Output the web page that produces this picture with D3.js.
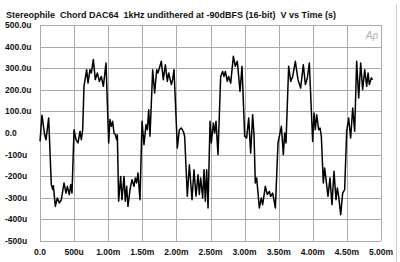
<!DOCTYPE html>
<html>
<head>
<meta charset="utf-8">
<script src="https://cdn.jsdelivr.net/npm/d3@7"></script>
<style>
  body { margin: 0; background: #fff; }
  svg { display: block; font-family: "Liberation Sans", Arial, sans-serif; }
</style>
</head>
<body>
<script>
var width = 400,
  height = 262;

var title = "Stereophile  Chord DAC64  1kHz undithered at -90dBFS (16-bit)  V vs Time (s)";

// x ticks (ms) and labels
var xTicks = [0, 0.5, 1, 1.5, 2, 2.5, 3, 3.5, 4, 4.5, 5];
var xLabels = ["0.0", "500u", "1.00m", "1.50m", "2.00m", "2.50m", "3.00m", "3.50m", "4.00m", "4.50m", "5.00m"];

// y ticks (uV) and labels
var yTicks = [500, 400, 300, 200, 100, 0, -100, -200, -300, -400, -500];
var yLabels = ["500.0u", "400.0u", "300.0u", "200.0u", "100.0u", "0.0", "-100u", "-200u", "-300u", "-400u", "-500u"];

// waveform, time in ms, level in uV
var timeMs = [0, 0.029, 0.068, 0.088, 0.127, 0.166, 0.186, 0.196, 0.225, 0.254, 0.283, 0.313, 0.352, 0.381, 0.401, 0.430, 0.450, 0.469,
  0.499, 0.528, 0.557, 0.587, 0.606, 0.626, 0.645, 0.684, 0.704, 0.733, 0.753, 0.782, 0.811, 0.841, 0.870, 0.899, 0.929, 0.968,
  1.007, 1.026, 1.046, 1.065, 1.085, 1.105, 1.124, 1.134, 1.153, 1.183, 1.202, 1.232, 1.251, 1.271, 1.290, 1.320, 1.349, 1.378, 1.398, 1.417, 1.437, 1.466,
  1.496, 1.525, 1.554, 1.574, 1.594, 1.613, 1.652, 1.681, 1.711, 1.730, 1.779, 1.808, 1.838, 1.867, 1.887, 1.926, 1.945, 1.965,
  2.014, 2.043, 2.072, 2.101, 2.121, 2.160, 2.190, 2.229, 2.258, 2.287, 2.317, 2.336, 2.356, 2.385, 2.405, 2.424, 2.444, 2.464,
  2.493, 2.512, 2.542, 2.561, 2.581, 2.610, 2.649, 2.678, 2.698, 2.718, 2.747, 2.766, 2.796, 2.835, 2.864, 2.893, 2.933, 2.962,
  3.001, 3.030, 3.060, 3.089, 3.118, 3.138, 3.157, 3.177, 3.216, 3.245, 3.265, 3.304, 3.333, 3.363, 3.382, 3.412, 3.451,
  3.490, 3.539, 3.568, 3.588, 3.607, 3.646, 3.676, 3.705, 3.744, 3.783, 3.822, 3.861, 3.891, 3.920, 3.949,
  3.998, 4.018, 4.037, 4.057, 4.086, 4.106, 4.125, 4.154, 4.174, 4.223, 4.252, 4.281, 4.311, 4.340, 4.360, 4.379, 4.409, 4.438, 4.467,
  4.497, 4.526, 4.555, 4.585, 4.614, 4.643, 4.673, 4.702, 4.731, 4.761, 4.790, 4.810, 4.829, 4.858, 4.878];

var levelUv = [-39, 82, -8, -31, 69, -239, -262, -244, -340, -301, -324, -309, -231, -278, -247, -285, -239, -278,
  15, -31, -46, 8, -31, 15, 216, 293, 231, 293, 278, 340, 247, 278, 239, 262, 216, 324,
  -46, 62, 31, 54, 0, -8, -31, -8, -316, -201, -309, -201, -316, -247, -340, -262, -216, -247, -208, -231, -185, -309,
  54, -54, 39, 15, 108, -15, 293, 185, 293, 278, 332, 247, 316, 239, 278, 224, 247, 293,
  -69, 15, 23, 8, -15, -293, -147, -309, -170, -293, -193, -285, -208, -301, -170, -316, -170, -347,
  54, -46, 46, 0, 54, -100, 262, 285, 262, 285, 239, 262, 231, 355, 309, 332, 193, 309,
  -15, -23, 69, -93, 85, -8, -231, -208, -347, -301, -332, -247, -285, -270, -293, -278, -347,
  -46, 31, -100, 0, -46, 309, 239, 262, 332, 247, 208, 316, 224, 255, 324,
  -39, 93, 15, 85, 15, 23, -15, -231, -162, -293, -208, -332, -177, -309, -255, -293, -378, -278, -262,
  8, 69, -23, 116, 8, 332, 162, 324, 201, 293, 216, 278, 224, 255, 247];

var margin = { top: 25, right: 19, bottom: 21, left: 40 };

var x = d3.scaleLinear().domain([0, 5]).range([margin.left, width - margin.right]);
var y = d3.scaleLinear().domain([-500, 500]).range([height - margin.bottom, margin.top]);

var svg = d3.select("body").append("svg")
  .attr("width", width)
  .attr("height", height);

// faint frame on the right edge
svg.append("line")
  .attr("x1", 396.5).attr("x2", 396.5)
  .attr("y1", 4).attr("y2", height)
  .attr("stroke", "#d0d0d0");

svg.append("text")
  .attr("x", 6)
  .attr("y", 18)
  .attr("font-size", 9)
  .attr("font-weight", "bold")
  .attr("fill", "#111")
  .style("white-space", "pre")
  .attr("xml:space", "preserve")
  .text(title);

// grid
var grid = svg.append("g").attr("stroke", "#aaa").attr("stroke-width", 1);

grid.selectAll(".gx")
  .data(xTicks)
  .enter().append("line")
  .attr("x1", function (d) { return Math.round(x(d)) + 0.5; })
  .attr("x2", function (d) { return Math.round(x(d)) + 0.5; })
  .attr("y1", y(500))
  .attr("y2", y(-500));

grid.selectAll(".gy")
  .data(yTicks)
  .enter().append("line")
  .attr("x1", x(0))
  .attr("x2", x(5))
  .attr("y1", function (d) { return Math.round(y(d)) + 0.5; })
  .attr("y2", function (d) { return Math.round(y(d)) + 0.5; });

// tick labels
svg.selectAll(".ylab")
  .data(yTicks)
  .enter().append("text")
  .attr("x", 5)
  .attr("y", function (d) { return y(d) + 3; })
  .attr("font-size", 8.5)
  .attr("font-weight", "bold")
  .attr("fill", "#111")
  .text(function (d, i) { return yLabels[i]; });

svg.selectAll(".xlab")
  .data(xTicks)
  .enter().append("text")
  .attr("x", function (d) { return x(d); })
  .attr("y", 255)
  .attr("text-anchor", "middle")
  .attr("font-size", 8.5)
  .attr("font-weight", "bold")
  .attr("fill", "#111")
  .text(function (d, i) { return xLabels[i]; });

// Ap logo
svg.append("text")
  .attr("x", x(5) - 3)
  .attr("y", 39)
  .attr("text-anchor", "end")
  .attr("font-size", 10)
  .attr("font-style", "italic")
  .attr("fill", "#b0b0b0")
  .text("Ap");

// waveform
var data = timeMs.map(function (t, i) { return [t, levelUv[i]]; });

var line = d3.line()
  .x(function (d) { return x(d[0]); })
  .y(function (d) { return y(d[1]); });

svg.append("path")
  .datum(data)
  .attr("d", line)
  .attr("fill", "none")
  .attr("stroke", "#000")
  .attr("stroke-width", 1.5)
  .attr("stroke-linejoin", "round");
</script>
</body>
</html>
